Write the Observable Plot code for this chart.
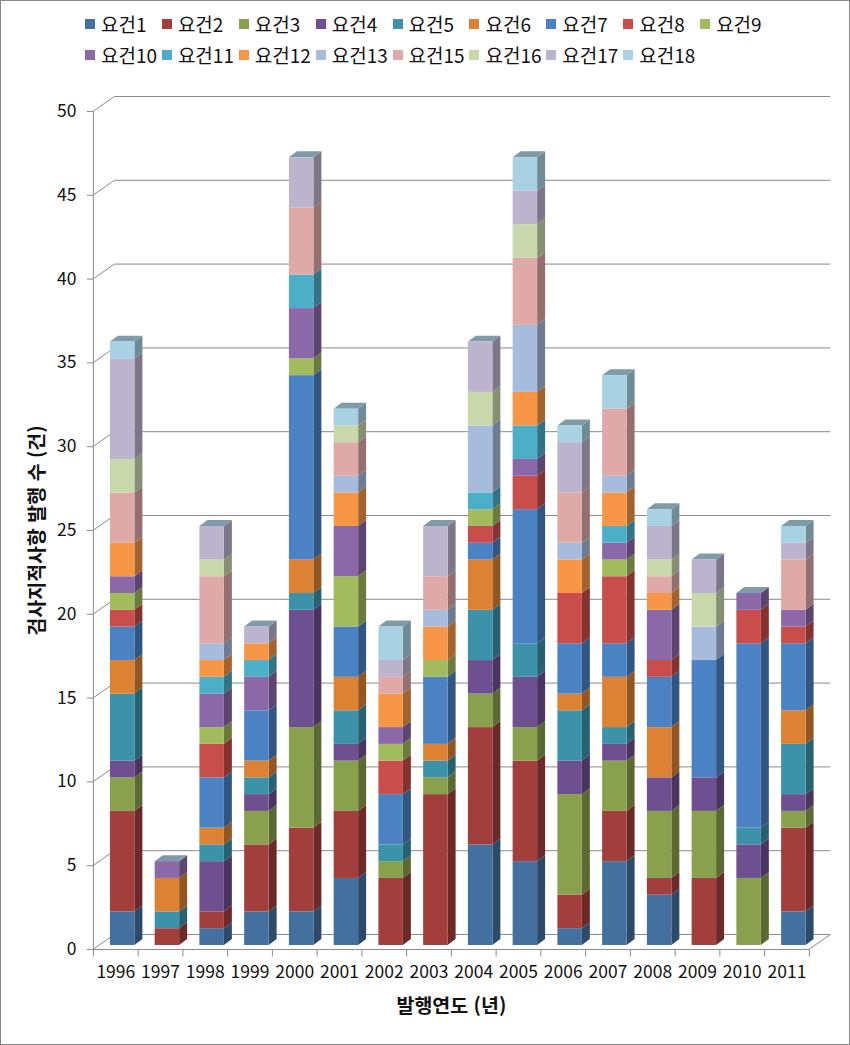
<!DOCTYPE html>
<html lang="ko">
<head>
<meta charset="utf-8">
<script src="https://cdn.jsdelivr.net/npm/d3@7"></script>
<script src="https://cdn.jsdelivr.net/npm/@observablehq/plot@0.6"></script>
<style>
  html, body { margin: 0; padding: 0; background: #fff; }
  #frame { position: relative; width: 850px; height: 1045px; box-sizing: border-box; border: 1px solid #868686; overflow: hidden; }
  #legend { position: absolute; left: 84px; top: 7px; display: grid; grid-template-columns: repeat(9, 76.9px); grid-auto-rows: 31px; font: 19px "Noto Sans CJK KR", "Noto Sans", sans-serif; color: #111; }
  #legend div { display: flex; align-items: center; white-space: nowrap; }
  #legend i { display: inline-block; width: 10px; height: 10px; margin-right: 6px; flex: none; }
  #chart { position: absolute; left: -1px; top: 88px; }
  #chart svg { overflow: visible; display: block; }
</style>
</head>
<body>
<div id="frame"><div id="legend"></div><div id="chart"></div></div>
<script>
const years = ["1996","1997","1998","1999","2000","2001","2002","2003","2004","2005","2006","2007","2008","2009","2010","2011"];
const seriesNames = ["요건1","요건2","요건3","요건4","요건5","요건6","요건7","요건8","요건9","요건10","요건11","요건12","요건13","요건15","요건16","요건17","요건18"];
const seriesColors = ["#44709f","#a23f3d","#89a04c","#6e5090","#3c93a9","#dc8232","#4a82c3","#c94d4a","#a2bb5d","#8b68a8","#4bafc8","#f79646","#a7bcdc","#dea9a7","#c9d8ab","#bcb3cd","#a8d2e3"];
const s1  = [2,0,1,2,2,4,0,0,6,5,1,5,3,0,0,2];
const s2  = [6,1,1,4,5,4,4,9,7,6,2,3,1,4,0,5];
const s3  = [2,0,0,2,6,3,1,1,2,2,6,3,4,4,4,1];
const s4  = [1,0,3,1,7,1,0,0,2,3,2,1,2,2,2,1];
const s5  = [4,1,1,1,1,2,1,1,3,2,3,1,0,0,1,3];
const s6  = [2,2,1,1,2,2,0,1,3,0,1,3,3,0,0,2];
const s7  = [2,0,3,3,11,3,3,4,1,8,3,2,3,7,11,4];
const s8  = [1,0,2,0,0,0,2,0,1,2,3,4,1,0,2,1];
const s9  = [1,0,1,0,1,3,1,1,1,0,0,1,0,0,0,0];
const s10 = [1,1,2,2,3,3,1,0,0,1,0,1,3,0,1,1];
const s11 = [0,0,1,1,2,0,0,0,1,2,0,1,0,0,0,0];
const s12 = [2,0,1,1,0,2,2,2,0,2,2,2,1,0,0,0];
const s13 = [0,0,1,0,0,1,0,1,4,4,1,1,0,2,0,0];
const s15 = [3,0,4,0,4,2,1,2,0,4,3,4,1,0,0,3];
const s16 = [2,0,1,0,0,1,0,0,2,2,0,0,1,2,0,0];
const s17 = [6,0,2,1,3,0,1,3,3,2,3,0,2,2,0,1];
const s18 = [1,0,0,0,0,1,2,0,0,2,1,2,1,0,0,1];
const seriesValues = [s1,s2,s3,s4,s5,s6,s7,s8,s9,s10,s11,s12,s13,s15,s16,s17,s18];
const yTicks = [0,5,10,15,20,25,30,35,40,45,50];
const xTitle = "발행연도 (년)";
const yTitle = "검사지적사항 발행 수 (건)";

const rows = seriesNames.flatMap((name, i) =>
  seriesValues[i].map((value, j) => ({year: years[j], name, value, idx: i})).filter(d => d.value > 0));
const totals = years.map((year, j) => ({year, value: d3.sum(seriesValues, s => s[j])}));
const sideColors = seriesColors.map(c => { const r = d3.rgb(c); return d3.rgb(r.r*0.66, r.g*0.66, r.b*0.66).formatHex(); });

// Pseudo-3D depth of the original: turn a rendered rect into its side or top parallelogram.
const DX = 8, DY = -6;
function faces(pointsOf) {
  return (index, scales, values, dims, ctx, next) => {
    const g = next(index, scales, values, dims, ctx);
    g.querySelectorAll("rect").forEach(r => {
      const x = +r.getAttribute("x"), y = +r.getAttribute("y"), w = +r.getAttribute("width"), h = +r.getAttribute("height");
      const p = document.createElementNS("http://www.w3.org/2000/svg", "polygon");
      p.setAttribute("points", pointsOf(x, y, w, h).map(q => q.join(",")).join(" "));
      const f = r.getAttribute("fill"); if (f) p.setAttribute("fill", f);
      r.replaceWith(p);
    });
    return g;
  };
}
const sideFace = faces((x,y,w,h) => [[x+w,y],[x+w,y+h],[x+w+DX,y+h+DY],[x+w+DX,y+DY]]);
const topFace  = faces((x,y,w,h) => [[x,y],[x+DX,y+DY],[x+w+DX,y+DY],[x+w,y]]);
function slanted(fromRight) {
  return (index, scales, values, dims, ctx, next) => {
    const g = next(index, scales, values, dims, ctx);
    g.querySelectorAll("line").forEach(l => {
      const x = +l.getAttribute(fromRight ? "x2" : "x1"), y = +l.getAttribute("y1");
      l.setAttribute("x1", x); l.setAttribute("x2", x + 21.5); l.setAttribute("y2", y - 15);
    });
    return g;
  };
}

const stack = Plot.stackY({x: "year", y: "value", order: null, dx: 6.9, dy: -4});
const grid = "#8a8a8a";
const step = 44.8;

const plot = Plot.plot({
  width: 850, height: 957,
  marginTop: 22, marginBottom: 96, marginLeft: 93, marginRight: 40.2,
  style: {fontFamily: "'Noto Sans CJK KR','Noto Sans',sans-serif", fontSize: "17.5px", color: "#111", background: "transparent", overflow: "visible"},
  x: {type: "band", domain: years, paddingInner: 0.453, paddingOuter: 0.2265, round: false, label: null},
  y: {domain: [0, 50], label: null},
  color: {domain: seriesNames, range: seriesColors},
  marks: [
    // back wall and floor
    Plot.ruleY(yTicks, {dx: 21.5, dy: -15, stroke: grid, strokeWidth: 1}),
    Plot.ruleY(yTicks, {stroke: grid, render: slanted(false)}),
    Plot.ruleY([0], {stroke: grid, render: slanted(true)}),
    Plot.ruleY([0], {stroke: grid}),
    Plot.ruleX(years.slice(0,1), {x: d => d, dx: -step/2, y1: 0, y2: 50, stroke: grid}),
    Plot.ruleX(years, {x: d => d, dx: -step/2, y1: 0, y2: -0.45, stroke: grid}),
    Plot.ruleX(years.slice(-1), {x: d => d, dx: step/2, y1: 0, y2: -0.45, stroke: grid}),
    // tick marks and labels
    Plot.axisY({ticks: yTicks, tickSize: 6, tickPadding: 11, stroke: grid, label: null, fontSize: 17.5}),
    Plot.axisX({tickSize: 0, tickPadding: 16, label: null, fontSize: 17.5}),
    // bars
    Plot.barY(rows, {...stack, fill: {value: d => sideColors[d.idx], scale: null}, render: sideFace}),
    Plot.barY(totals, {x: "year", y: "value", dx: 6.9, dy: -4, fill: "#7f9ba8", render: topFace}),
    Plot.barY(rows, {...stack, fill: "name"}),
    // titles
    Plot.text([yTitle], {frameAnchor: "left", textAnchor: "middle", dx: -56, rotate: -90, fontWeight: 700, fontSize: 19.5, fill: "#111"}),
    Plot.text([xTitle], {frameAnchor: "bottom", dy: 64, fontWeight: 700, fontSize: 19.5, fill: "#111"})
  ]
});
document.getElementById("chart").append(plot);

const legend = d3.select("#legend");
seriesNames.forEach((name, i) => {
  const item = legend.append("div");
  item.append("i").style("background", seriesColors[i]);
  item.append("span").text(name);
});
</script>
</body>
</html>
